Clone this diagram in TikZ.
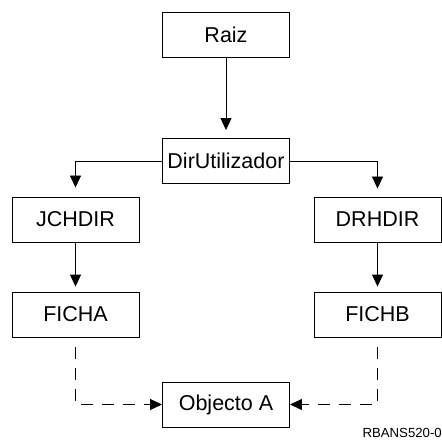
\documentclass[tikz,border=0pt]{standalone}
\usepackage{fontspec}
\setmainfont{Liberation Sans}
\usetikzlibrary{arrows.meta}

\begin{document}
\begin{tikzpicture}[x=1pt, y=1pt,
        box/.style={draw=black, line width=0.9pt, minimum width=127pt, minimum height=45pt, inner sep=0pt, font=\fontsize{21.5}{25}\selectfont},
        link/.style={line width=0.9pt, -{Triangle[width=11pt,length=12pt]}},
        dashlink/.style={link, dash pattern=on 12pt off 9pt}]
		
        \useasboundingbox (0,0) rectangle (441,-443);
        \node[box] (raiz) at (226,-34.5) {Raiz};
        \node[box] (dirutil) at (226,-161) {DirUtilizador};
        \node[box] (jchdir) at (75.5,-219.5) {JCHDIR};
        \node[box] (drhdir) at (377.5,-219.5) {DRHDIR};
        \node[box] (ficha) at (75.5,-314.5) {FICHA};
        \node[box] (fichb) at (377.5,-314.5) {FICHB};
        \node[box] (objA) at (226,-404.5) {Objecto A};
        \node[anchor=east, inner sep=0pt, font=\fontsize{13.2}{15}\selectfont] (tag) at (442,-433) {RBANS520-0};
        \draw[link, shorten >=8pt] (raiz) -- (dirutil);
		\draw[link, shorten >=9pt] (dirutil.west) -| (jchdir.north);
		\draw[link, shorten >=8pt] (dirutil.east) -| (drhdir.north);
		\draw[link, shorten >=5pt] (jchdir) -- (ficha);
		\draw[link, shorten >=5pt] (drhdir) -- (fichb);
		\draw[dashlink, shorten <=10pt] (ficha.south) |- (objA.west);
		\draw[dashlink, shorten <=10pt] (fichb.south) |- (objA.east);
        
    \end{tikzpicture}
\end{document}
